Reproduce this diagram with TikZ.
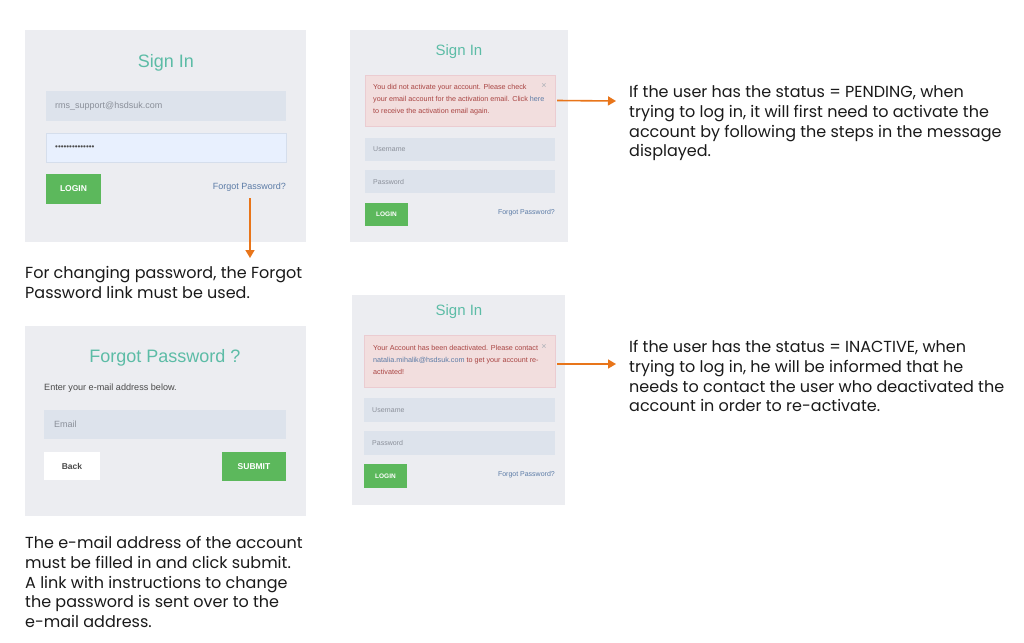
\documentclass[tikz,border=0pt]{standalone}
\usepackage{fontspec}
\setmainfont{Poppins}
\newfontfamily\uifont{Liberation Sans}
\usetikzlibrary{arrows.meta}
\definecolor{panelbg}{HTML}{ECEDF1}
\definecolor{fieldbg}{HTML}{DDE3EC}
\definecolor{pwbg}{HTML}{E8F0FE}
\definecolor{pwborder}{HTML}{D5DEEC}
\definecolor{titleteal}{HTML}{5CBCA6}
\definecolor{btngreen}{HTML}{5CB85C}
\definecolor{linkblue}{HTML}{5B7BA6}
\definecolor{alertbg}{HTML}{F2DEDE}
\definecolor{alertborder}{HTML}{EBCCD1}
\definecolor{alerttext}{HTML}{A94442}
\definecolor{arroworange}{HTML}{E8751A}
\definecolor{hintgray}{HTML}{8A8F99}
\definecolor{bodytext}{HTML}{1A1A1A}
\definecolor{labeldark}{HTML}{4A4A4A}
\tikzset{
  box/.style={inner sep=0pt, outer sep=0pt, anchor=north west},
  panel/.style={box, fill=panelbg},
  field/.style={box, fill=fieldbg},
  pwfield/.style={box, fill=pwbg, draw=pwborder, line width=0.8pt},
  greenbtn/.style={box, fill=btngreen},
  whitebtn/.style={box, fill=white},
  alertbox/.style={box, fill=alertbg, draw=alertborder, line width=0.6pt},
  title/.style={inner sep=0pt, text=titleteal, font=\uifont\fontsize{18}{22}\selectfont},
  smalltitle/.style={inner sep=0pt, text=titleteal, font=\uifont\fontsize{15}{18}\selectfont},
  hint/.style={inner sep=0pt, anchor=west, text=hintgray, font=\uifont\fontsize{9}{11}\selectfont},
  smallhint/.style={inner sep=0pt, anchor=west, text=hintgray, font=\uifont\fontsize{7}{9}\selectfont},
  btntext/.style={inner sep=0pt, text=white, font=\uifont\bfseries\fontsize{8.5}{10}\selectfont},
  smallbtntext/.style={inner sep=0pt, text=white, font=\uifont\bfseries\fontsize{6.5}{8}\selectfont},
  link/.style={inner sep=0pt, anchor=east, text=linkblue, font=\uifont\fontsize{9}{11}\selectfont},
  smalllink/.style={inner sep=0pt, anchor=east, text=linkblue, font=\uifont\fontsize{7}{9}\selectfont},
  alerttxt/.style={inner sep=0pt, anchor=north west, align=left, text=alerttext, font=\uifont\fontsize{7.2}{12}\selectfont},
  closex/.style={inner sep=0pt, text=hintgray!70, font=\uifont\fontsize{9}{10}\selectfont},
  note/.style={inner sep=0pt, anchor=north west, align=left, text=bodytext, font=\fontsize{16}{19.8}\selectfont},
  arr/.style={draw=arroworange, line width=1.6pt, -{Triangle[length=8pt,width=9pt]}}
}
\begin{document}
\begin{tikzpicture}[x=1pt,y=-1pt]
\useasboundingbox (0,0) rectangle (1024,642);
\fill[white] (0,0) rectangle (1024,642);

% ---------- Panel 1: Sign In ----------
\node[panel, minimum width=281, minimum height=212] (p1) at (25,30) {};
\node[title] (p1t) at (166,63) {Sign In};
\node[field, minimum width=240, minimum height=30] (p1u) at (46,91) {};
\node[hint] (p1ut) at (55,106) {rms\_support@hsdsuk.com};
\node[pwfield, minimum width=240, minimum height=29] (p1p) at (46,133) {};
\node[inner sep=0pt, anchor=west, text=labeldark, font=\uifont\fontsize{8}{9}\selectfont] (p1pt) at (55,147.5) {\textbullet\textbullet\textbullet\textbullet\textbullet\textbullet\textbullet\textbullet\textbullet\textbullet\textbullet\textbullet\textbullet\textbullet};
\node[greenbtn, minimum width=55, minimum height=30] (p1b) at (46,174) {};
\node[btntext] (p1bt) at (p1b.center) {LOGIN};
\node[link] (fp1) at (286,187) {Forgot Password?};

% ---------- note 1 ----------
\node[note] (n1) at (25,266) {For changing password, the Forgot\\Password link must be used.};
\coordinate (a1s) at (250,198);
\coordinate (a1e) at (250,258);
\draw[arr] (a1s) -- (a1e);

% ---------- Panel 2: Forgot Password ----------
\node[panel, minimum width=281, minimum height=190] (p2) at (25,326) {};
\node[title] (p2t) at (165,358) {Forgot Password ?};
\node[inner sep=0pt, anchor=west, text=labeldark, font=\uifont\fontsize{9.1}{11}\selectfont] (p2l) at (44,388) {Enter your e-mail address below.};
\node[field, minimum width=242, minimum height=29] (p2e) at (44,410) {};
\node[hint] (p2et) at (54,424) {Email};
\node[whitebtn, minimum width=56, minimum height=28] (p2back) at (44,452) {};
\node[inner sep=0pt, text=labeldark, font=\uifont\bfseries\fontsize{8.5}{10}\selectfont] (p2backt) at (p2back.center) {Back};
\node[greenbtn, minimum width=64, minimum height=29] (p2sub) at (222,452) {};
\node[btntext] (p2subt) at (p2sub.center) {SUBMIT};

% ---------- note 2 ----------
\node[note] (n2) at (25,536) {The e-mail address of the account\\must be filled in and click submit.\\A link with instructions to change\\the password is sent over to the\\e-mail address.};

% ---------- Panel 3: pending ----------
\node[panel, minimum width=218, minimum height=212] (p3) at (350,30) {};
\node[smalltitle] (p3t) at (459,52) {Sign In};
\node[alertbox, minimum width=190, minimum height=51] (al1) at (365,75) {};
\node[alerttxt] (al1t) at (373,84) {You did not activate your account. Please check\\your email account for the activation email. Click \textcolor{linkblue}{here}\\to receive the activation email again.};
\node[closex] (al1x) at (544,86) {\texttimes};
\node[field, minimum width=190, minimum height=23] (p3u) at (365,138) {};
\node[smallhint] (p3ut) at (373,149.5) {Username};
\node[field, minimum width=190, minimum height=23] (p3p) at (365,170) {};
\node[smallhint] (p3pt) at (373,181.5) {Password};
\node[greenbtn, minimum width=43, minimum height=23] (p3b) at (365,203) {};
\node[smallbtntext] (p3bt) at (p3b.center) {LOGIN};
\node[smalllink] (fp3) at (555,213) {Forgot Password?};

\node[note] (n3) at (629,85) {If the user has the status = PENDING, when\\trying to log in, it will first need to activate the\\account by following the steps in the message\\displayed.};
\coordinate (a2e) at (616,101);
\draw[arr] ([xshift=2pt]al1.east) -- (a2e);

% ---------- Panel 4: inactive ----------
\node[panel, minimum width=213, minimum height=210] (p4) at (352,295) {};
\node[smalltitle] (p4t) at (459,312) {Sign In};
\node[alertbox, minimum width=191, minimum height=52] (al2) at (364,335) {};
\node[alerttxt] (al2t) at (373,345) {Your Account has been deactivated. Please contact\\\textcolor{linkblue}{natalia.mihalik@hsdsuk.com} to get your account re-\\activated!};
\node[closex] (al2x) at (544,347) {\texttimes};
\node[field, minimum width=191, minimum height=24] (p4u) at (364,398) {};
\node[smallhint] (p4ut) at (372,410) {Username};
\node[field, minimum width=191, minimum height=24] (p4p) at (364,431) {};
\node[smallhint] (p4pt) at (372,443) {Password};
\node[greenbtn, minimum width=43, minimum height=24] (p4b) at (364,464) {};
\node[smallbtntext] (p4bt) at (p4b.center) {LOGIN};
\node[smalllink] (fp4) at (555,475) {Forgot Password?};

\node[note] (n4) at (629,340) {If the user has the status = INACTIVE, when\\trying to log in, he will be informed that he\\needs to contact the user who deactivated the\\account in order to re-activate.};
\coordinate (a3e) at (616,364);
\draw[arr] ([xshift=2pt,yshift=-3pt]al2.east) -- (a3e);
\end{tikzpicture}
\end{document}
